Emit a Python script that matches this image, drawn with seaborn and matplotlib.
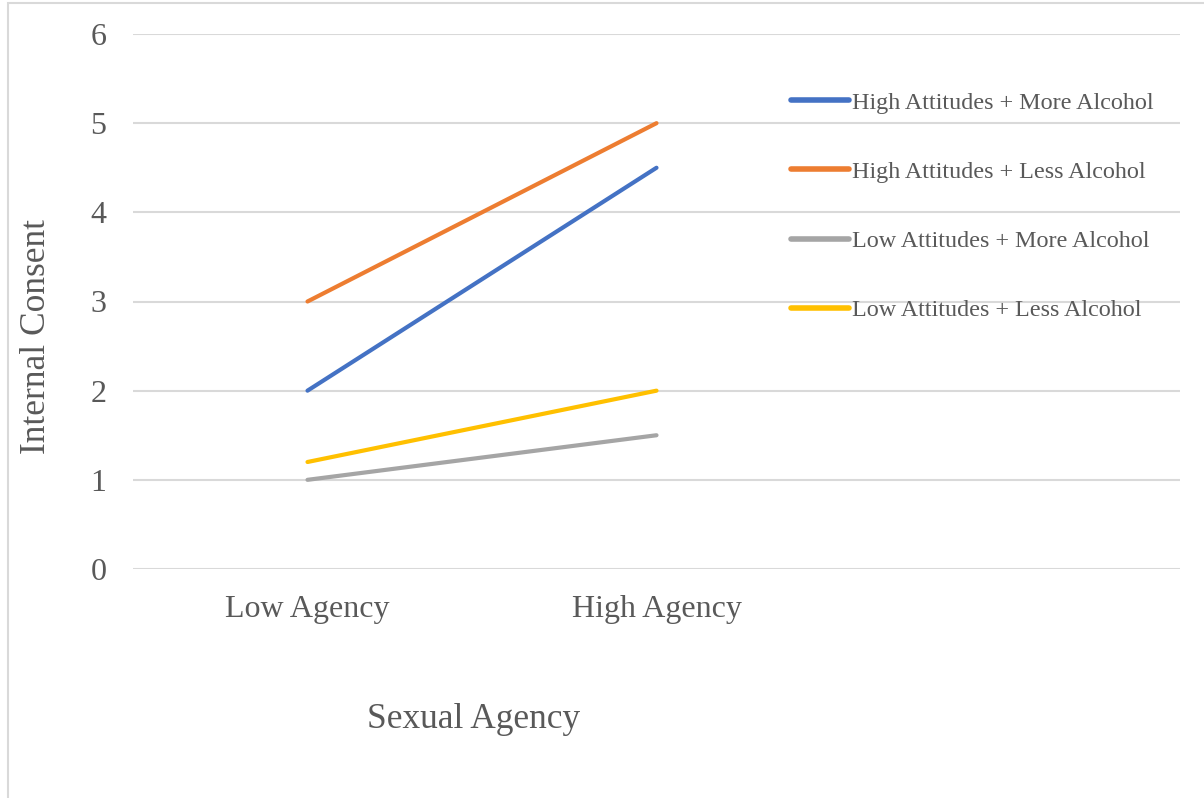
import matplotlib
matplotlib.use("Agg")
import matplotlib.pyplot as plt
from matplotlib.patches import Rectangle
import pandas as pd
import seaborn as sns

# Data
agency_levels = ["Low Agency", "High Agency"]
groups = [
    "High Attitudes + More Alcohol",
    "High Attitudes + Less Alcohol",
    "Low Attitudes + More Alcohol",
    "Low Attitudes + Less Alcohol",
]
high_att_more_alc = [2.0, 4.5]
high_att_less_alc = [3.0, 5.0]
low_att_more_alc = [1.0, 1.5]
low_att_less_alc = [1.2, 2.0]
y_ticks = [0, 1, 2, 3, 4, 5, 6]

colors = ["#4472C4", "#ED7D31", "#A5A5A5", "#FFC000"]

rows = []
for name, vals in zip(groups, [high_att_more_alc, high_att_less_alc,
                               low_att_more_alc, low_att_less_alc]):
    for lvl, v in zip(agency_levels, vals):
        rows.append({"Sexual Agency": lvl, "Internal Consent": v, "Group": name})
df = pd.DataFrame(rows)

sns.set_theme(style="white")
plt.rcParams["font.family"] = ["Liberation Serif", "DejaVu Serif"]

W, H = 1204, 798
fig = plt.figure(figsize=(W / 100, H / 100), dpi=100)
ax = fig.add_axes([133 / W, 1 - 569 / H, (1180 - 133) / W, (569 - 34) / H])

# Outer chart frame
fig.patches.append(Rectangle((8 / W, -0.05), 1.2, 1 - 3 / H + 0.05,
                             transform=fig.transFigure, fill=False,
                             edgecolor="#D9D9D9", linewidth=1.5, zorder=0))

sns.lineplot(data=df, x="Sexual Agency", y="Internal Consent", hue="Group",
             hue_order=groups, palette=colors, linewidth=3.0, ax=ax,
             sort=False, solid_capstyle="round")

ax.set_xlim(-0.5, 2.5)
ax.set_ylim(0, 6)
ax.set_yticks(y_ticks)
ax.set_yticklabels([str(t) for t in y_ticks])
ax.yaxis.grid(True, color="#D9D9D9", linewidth=1.5)
ax.xaxis.grid(False)
ax.set_axisbelow(True)
for s in ax.spines.values():
    s.set_visible(False)

ax.tick_params(axis="y", length=0, pad=19, labelsize=23, labelcolor="#595959")
ax.tick_params(axis="x", length=0, pad=19, labelsize=23, labelcolor="#595959")

ax.set_xlabel("Sexual Agency", fontsize=25.5, color="#595959")
ax.set_ylabel("Internal Consent", fontsize=25.5, color="#595959")
ax.xaxis.set_label_coords((474 - 133) / (1180 - 133), -(703 - 569) / (569 - 34))
ax.yaxis.set_label_coords(-(133 - 53) / (1180 - 133), (569 - 336) / (569 - 34))

handles, labels = ax.get_legend_handles_labels()
for h in handles:
    h.set_linewidth(4.0)
leg = ax.legend(handles, labels, loc="upper left",
                bbox_to_anchor=(791 / W, 1 - 92 / H), bbox_transform=fig.transFigure,
                frameon=False, fontsize=17.4, handlelength=2.4,
                handletextpad=0.12, labelspacing=1.95, borderaxespad=0,
                borderpad=0)
for t in leg.get_texts():
    t.set_color("#595959")

fig.savefig("out.png", dpi=100, facecolor="white")
